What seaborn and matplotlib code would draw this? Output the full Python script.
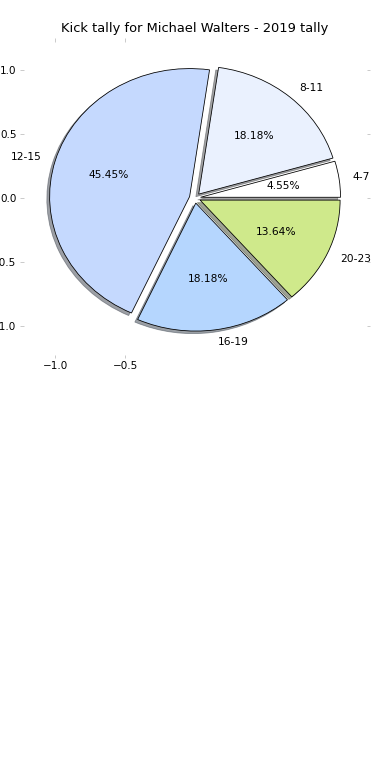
import matplotlib
matplotlib.use("Agg")
import matplotlib.pyplot as plt
import seaborn as sns

# data
age_groups = ["4-7", "8-11", "12-15", "16-19", "20-23"]
kicks = [1, 4, 10, 4, 3]
slice_colors = ["#ffffff", "#eaf1fe", "#c5d9fe", "#b5d6fe", "#cfe98b"]
x_ticks = [-1.0, -0.5]
y_ticks = [-1.0, -0.5, 0.0, 0.5, 1.0]

sns.set_style("white")
plt.rcParams["font.family"] = ["DejaVu Sans"]

fig = plt.figure(figsize=(390 / 72, 780 / 72), dpi=72)
ax = fig.add_axes([20 / 390, 1 - 358 / 780, 350 / 390, 320 / 780])

ax.pie(kicks, labels=age_groups, colors=slice_colors, autopct="%.2f%%",
       explode=[0.04] * len(kicks), shadow=True, startangle=0,
       wedgeprops={"edgecolor": "black", "linewidth": 0.8},
       textprops={"color": "black", "fontsize": 10.6})

# pie forces equal aspect and removes ticks, put them back like the original
ax.set_aspect("auto")
ax.set_xlim(-1.25, 1.25)
ax.set_ylim(-1.25, 1.25)
ax.set_xticks(x_ticks)
ax.set_yticks(y_ticks)
ax.set_frame_on(False)
ax.tick_params(axis="both", which="both", direction="in", length=3.5,
               color="0.75", labelcolor="black", labelsize=10.4,
               bottom=True, top=True, left=True, right=True,
               labelbottom=True, labelleft=True)

ax.set_title("Kick tally for Michael Walters - 2019 tally", fontsize=13,
             color="black")

plt.savefig("out.png", dpi=72)
plt.close()
